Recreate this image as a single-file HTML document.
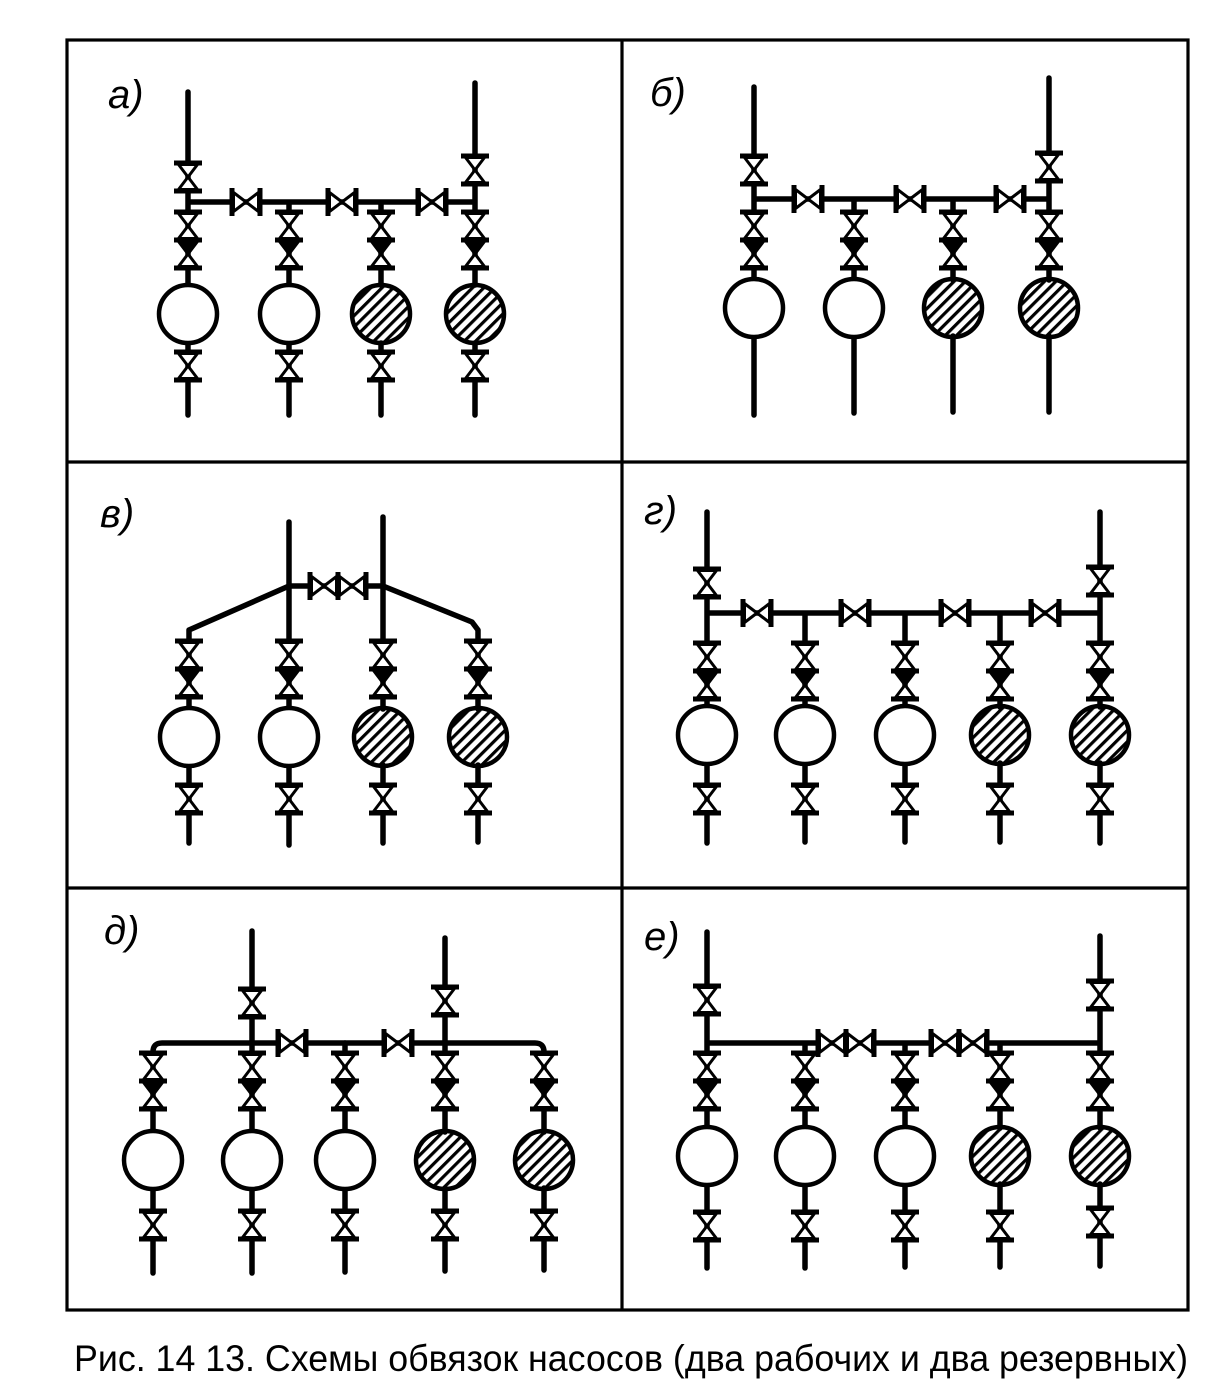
<!DOCTYPE html>
<html>
<head>
<meta charset="utf-8">
<style>
html,body{margin:0;padding:0;background:#fff;}
svg{display:block;}
text{font-family:"Liberation Sans","DejaVu Sans",sans-serif;}
</style>
</head>
<body>
<svg width="1228" height="1387" viewBox="0 0 1228 1387" xmlns="http://www.w3.org/2000/svg">
<defs>
  <pattern id="h" width="8" height="8" patternUnits="userSpaceOnUse" patternTransform="rotate(45)">
    <rect x="0" y="0" width="3.2" height="8" fill="#000"/>
  </pattern>
  <g id="vo">
    <path d="M-9.5,-12.5 L9.5,-12.5 L0,0 Z M-9.5,12.5 L9.5,12.5 L0,0 Z" fill="#fff" stroke="#000" stroke-width="3" stroke-linejoin="round"/>
    <rect x="-14" y="-16.5" width="28" height="5" fill="#000"/>
    <rect x="-14" y="11.5" width="28" height="5" fill="#000"/>
  </g>
  <g id="vc">
    <path d="M-9.5,-12.5 L9.5,-12.5 L0,0 Z" fill="#000" stroke="#000" stroke-width="3" stroke-linejoin="round"/>
    <path d="M-9.5,12.5 L9.5,12.5 L0,0 Z" fill="#fff" stroke="#000" stroke-width="3" stroke-linejoin="round"/>
    <rect x="-14" y="-16.5" width="28" height="5" fill="#000"/>
    <rect x="-14" y="11.5" width="28" height="5" fill="#000"/>
  </g>
</defs>

<!-- Frame -->
<g fill="none" stroke="#000" stroke-width="3.2">
  <rect x="67" y="40" width="1121" height="1270"/>
  <line x1="622" y1="40" x2="622" y2="1310"/>
  <line x1="67" y1="462" x2="1188" y2="462"/>
  <line x1="67" y1="888" x2="1188" y2="888"/>
</g>

<!-- Labels -->
<g font-style="italic" font-size="40" fill="#000">
  <text x="108" y="108">а)</text>
  <text x="650" y="106">б)</text>
  <text x="100" y="527">в)</text>
  <text x="644" y="524">г)</text>
  <text x="104" y="944">д)</text>
  <text x="644" y="950">е)</text>
</g>

<!-- ============ Panel а ============ -->
<g stroke="#000" stroke-width="5.5" fill="none" stroke-linecap="round">
  <path d="M188,92 V285 M475,83 V285 M289,202 V285 M381,202 V285 M188,202 H475"/>
  <path d="M188,343 V415 M289,343 V415 M381,343 V415 M475,343 V415"/>
</g>
<use href="#vo" transform="translate(188,177)"/>
<use href="#vo" transform="translate(475,170)"/>
<use href="#vo" transform="translate(246,202) rotate(90)"/>
<use href="#vo" transform="translate(342,202) rotate(90)"/>
<use href="#vo" transform="translate(432,202) rotate(90)"/>
<use href="#vo" transform="translate(188,226)"/><use href="#vc" transform="translate(188,254)"/>
<use href="#vo" transform="translate(289,226)"/><use href="#vc" transform="translate(289,254)"/>
<use href="#vo" transform="translate(381,226)"/><use href="#vc" transform="translate(381,254)"/>
<use href="#vo" transform="translate(475,226)"/><use href="#vc" transform="translate(475,254)"/>
<use href="#vo" transform="translate(188,366)"/>
<use href="#vo" transform="translate(289,366)"/>
<use href="#vo" transform="translate(381,366)"/>
<use href="#vo" transform="translate(475,366)"/>
<g stroke="#000" stroke-width="4.5">
  <circle cx="188" cy="314" r="29" fill="#fff"/>
  <circle cx="289" cy="314" r="29" fill="#fff"/>
  <circle cx="381" cy="314" r="29" fill="url(#h)"/>
  <circle cx="475" cy="314" r="29" fill="url(#h)"/>
</g>

<!-- ============ Panel б ============ -->
<g stroke="#000" stroke-width="5.5" fill="none" stroke-linecap="round">
  <path d="M754,87 V280 M1049,78 V280 M854,199 V280 M953,199 V280 M754,199 H1049"/>
  <path d="M754,336 V415 M854,336 V413 M953,336 V412 M1049,336 V412"/>
</g>
<use href="#vo" transform="translate(754,170)"/>
<use href="#vo" transform="translate(1049,167)"/>
<use href="#vo" transform="translate(808,199) rotate(90)"/>
<use href="#vo" transform="translate(910,199) rotate(90)"/>
<use href="#vo" transform="translate(1010,199) rotate(90)"/>
<use href="#vo" transform="translate(754,226)"/><use href="#vc" transform="translate(754,254)"/>
<use href="#vo" transform="translate(854,226)"/><use href="#vc" transform="translate(854,254)"/>
<use href="#vo" transform="translate(953,226)"/><use href="#vc" transform="translate(953,254)"/>
<use href="#vo" transform="translate(1049,226)"/><use href="#vc" transform="translate(1049,254)"/>
<g stroke="#000" stroke-width="4.5">
  <circle cx="754" cy="308" r="29" fill="#fff"/>
  <circle cx="854" cy="308" r="29" fill="#fff"/>
  <circle cx="953" cy="308" r="29" fill="url(#h)"/>
  <circle cx="1049" cy="308" r="29" fill="url(#h)"/>
</g>

<!-- ============ Panel в ============ -->
<g stroke="#000" stroke-width="5.5" fill="none" stroke-linecap="round" stroke-linejoin="round">
  <path d="M289,522 V709 M383,517 V709 M289,586 H383"/>
  <path d="M289,586 L189,630 V709 M383,586 L472,622 L478,630 V709"/>
  <path d="M189,765 V843 M289,765 V845 M383,765 V843 M478,765 V842"/>
</g>
<use href="#vo" transform="translate(324,586) rotate(90)"/>
<use href="#vo" transform="translate(352,586) rotate(90)"/>
<use href="#vo" transform="translate(189,655)"/><use href="#vc" transform="translate(189,683)"/>
<use href="#vo" transform="translate(289,655)"/><use href="#vc" transform="translate(289,683)"/>
<use href="#vo" transform="translate(383,655)"/><use href="#vc" transform="translate(383,683)"/>
<use href="#vo" transform="translate(478,655)"/><use href="#vc" transform="translate(478,683)"/>
<use href="#vo" transform="translate(189,799)"/>
<use href="#vo" transform="translate(289,799)"/>
<use href="#vo" transform="translate(383,799)"/>
<use href="#vo" transform="translate(478,799)"/>
<g stroke="#000" stroke-width="4.5">
  <circle cx="189" cy="737" r="29" fill="#fff"/>
  <circle cx="289" cy="737" r="29" fill="#fff"/>
  <circle cx="383" cy="737" r="29" fill="url(#h)"/>
  <circle cx="478" cy="737" r="29" fill="url(#h)"/>
</g>

<!-- ============ Panel г ============ -->
<g stroke="#000" stroke-width="5.5" fill="none" stroke-linecap="round">
  <path d="M707,512 V707 M1100,512 V707 M805,613 V707 M905,613 V707 M1000,613 V707 M707,613 H1100"/>
  <path d="M707,763 V843 M805,763 V842 M905,763 V842 M1000,763 V842 M1100,763 V843"/>
</g>
<use href="#vo" transform="translate(707,583)"/>
<use href="#vo" transform="translate(1100,581)"/>
<use href="#vo" transform="translate(757,613) rotate(90)"/>
<use href="#vo" transform="translate(855,613) rotate(90)"/>
<use href="#vo" transform="translate(955,613) rotate(90)"/>
<use href="#vo" transform="translate(1045,613) rotate(90)"/>
<use href="#vo" transform="translate(707,657)"/><use href="#vc" transform="translate(707,685)"/>
<use href="#vo" transform="translate(805,657)"/><use href="#vc" transform="translate(805,685)"/>
<use href="#vo" transform="translate(905,657)"/><use href="#vc" transform="translate(905,685)"/>
<use href="#vo" transform="translate(1000,657)"/><use href="#vc" transform="translate(1000,685)"/>
<use href="#vo" transform="translate(1100,657)"/><use href="#vc" transform="translate(1100,685)"/>
<use href="#vo" transform="translate(707,799)"/>
<use href="#vo" transform="translate(805,799)"/>
<use href="#vo" transform="translate(905,799)"/>
<use href="#vo" transform="translate(1000,799)"/>
<use href="#vo" transform="translate(1100,799)"/>
<g stroke="#000" stroke-width="4.5">
  <circle cx="707" cy="735" r="29" fill="#fff"/>
  <circle cx="805" cy="735" r="29" fill="#fff"/>
  <circle cx="905" cy="735" r="29" fill="#fff"/>
  <circle cx="1000" cy="735" r="29" fill="url(#h)"/>
  <circle cx="1100" cy="735" r="29" fill="url(#h)"/>
</g>

<!-- ============ Panel д ============ -->
<g stroke="#000" stroke-width="5.5" fill="none" stroke-linecap="round" stroke-linejoin="round">
  <path d="M252,931 V1132 M445,938 V1132 M345,1043 V1132"/>
  <path d="M153,1132 V1052 Q153,1043 162,1043 H535 Q544,1043 544,1052 V1132"/>
  <path d="M153,1188 V1273 M252,1188 V1273 M345,1188 V1272 M445,1188 V1271 M544,1188 V1270"/>
</g>
<use href="#vo" transform="translate(252,1003)"/>
<use href="#vo" transform="translate(445,1001)"/>
<use href="#vo" transform="translate(292,1043) rotate(90)"/>
<use href="#vo" transform="translate(398,1043) rotate(90)"/>
<use href="#vo" transform="translate(153,1067)"/><use href="#vc" transform="translate(153,1095)"/>
<use href="#vo" transform="translate(252,1067)"/><use href="#vc" transform="translate(252,1095)"/>
<use href="#vo" transform="translate(345,1067)"/><use href="#vc" transform="translate(345,1095)"/>
<use href="#vo" transform="translate(445,1067)"/><use href="#vc" transform="translate(445,1095)"/>
<use href="#vo" transform="translate(544,1067)"/><use href="#vc" transform="translate(544,1095)"/>
<use href="#vo" transform="translate(153,1225)"/>
<use href="#vo" transform="translate(252,1225)"/>
<use href="#vo" transform="translate(345,1225)"/>
<use href="#vo" transform="translate(445,1225)"/>
<use href="#vo" transform="translate(544,1225)"/>
<g stroke="#000" stroke-width="4.5">
  <circle cx="153" cy="1160" r="29" fill="#fff"/>
  <circle cx="252" cy="1160" r="29" fill="#fff"/>
  <circle cx="345" cy="1160" r="29" fill="#fff"/>
  <circle cx="445" cy="1160" r="29" fill="url(#h)"/>
  <circle cx="544" cy="1160" r="29" fill="url(#h)"/>
</g>

<!-- ============ Panel е ============ -->
<g stroke="#000" stroke-width="5.5" fill="none" stroke-linecap="round">
  <path d="M707,932 V1128 M1100,936 V1128 M805,1043 V1128 M905,1043 V1128 M1000,1043 V1128 M707,1043 H1100"/>
  <path d="M707,1184 V1268 M805,1184 V1268 M905,1184 V1267 M1000,1184 V1267 M1100,1184 V1266"/>
</g>
<use href="#vo" transform="translate(707,1000)"/>
<use href="#vo" transform="translate(1100,995)"/>
<use href="#vo" transform="translate(832,1043) rotate(90)"/>
<use href="#vo" transform="translate(860,1043) rotate(90)"/>
<use href="#vo" transform="translate(945,1043) rotate(90)"/>
<use href="#vo" transform="translate(973,1043) rotate(90)"/>
<use href="#vo" transform="translate(707,1067)"/><use href="#vc" transform="translate(707,1095)"/>
<use href="#vo" transform="translate(805,1067)"/><use href="#vc" transform="translate(805,1095)"/>
<use href="#vo" transform="translate(905,1067)"/><use href="#vc" transform="translate(905,1095)"/>
<use href="#vo" transform="translate(1000,1067)"/><use href="#vc" transform="translate(1000,1095)"/>
<use href="#vo" transform="translate(1100,1067)"/><use href="#vc" transform="translate(1100,1095)"/>
<use href="#vo" transform="translate(707,1226)"/>
<use href="#vo" transform="translate(805,1226)"/>
<use href="#vo" transform="translate(905,1226)"/>
<use href="#vo" transform="translate(1000,1226)"/>
<use href="#vo" transform="translate(1100,1222)"/>
<g stroke="#000" stroke-width="4.5">
  <circle cx="707" cy="1156" r="29" fill="#fff"/>
  <circle cx="805" cy="1156" r="29" fill="#fff"/>
  <circle cx="905" cy="1156" r="29" fill="#fff"/>
  <circle cx="1000" cy="1156" r="29" fill="url(#h)"/>
  <circle cx="1100" cy="1156" r="29" fill="url(#h)"/>
</g>

<!-- Caption -->
<text x="74" y="1371" font-size="37" fill="#000" textLength="1114" lengthAdjust="spacingAndGlyphs">Рис. 14 13. Схемы обвязок насосов (два рабочих и два резервных)</text>
</svg>
</body>
</html>
